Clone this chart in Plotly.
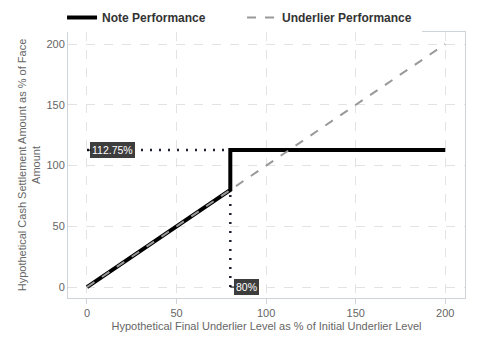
import plotly.graph_objects as go

note_x = [0, 80, 80, 200]
note_y = [0, 80, 112.75, 112.75]
under_x = [0, 200]
under_y = [0, 200]
barrier_x = 80
cap_y = 112.75
x_ticks = [0, 50, 100, 150, 200]
y_ticks = [0, 50, 100, 150, 200]

fig = go.Figure()
dot_line = dict(color="#1c2030", width=2.5, dash="2px,7px")
fig.add_trace(go.Scatter(x=[0, barrier_x], y=[cap_y, cap_y], mode="lines",
                         line=dot_line, showlegend=False, hoverinfo="skip"))
fig.add_trace(go.Scatter(x=[barrier_x, barrier_x], y=[0, cap_y], mode="lines",
                         line=dot_line, showlegend=False, hoverinfo="skip"))
fig.add_trace(go.Scatter(x=note_x, y=note_y, mode="lines", name="Note Performance",
                         line=dict(color="black", width=4)))
fig.add_trace(go.Scatter(x=under_x, y=under_y, mode="lines", name="Underlier Performance",
                         line=dict(color="#999999", width=2, dash="dash")))

ann_style = dict(showarrow=True, arrowhead=0, arrowwidth=1, arrowcolor="black", ay=0,
                 bgcolor="#3d3d3d", bordercolor="#3d3d3d", borderpad=1,
                 font=dict(color="white", size=10.5, family="Liberation Sans"))
fig.add_annotation(x=0, y=cap_y, text=f"{cap_y}%", ax=26, **ann_style)
fig.add_annotation(x=barrier_x, y=0, text=f"{barrier_x}%", ax=16, **ann_style)

axis_common = dict(showline=True, linecolor="#cfd4da", mirror=True, linewidth=1,
                   gridcolor="#e3e3e3", griddash="dash", zeroline=False,
                   tickfont=dict(color="#666666", size=11))
fig.update_xaxes(range=[-10.6, 211], tickvals=x_ticks, ticks="outside", tickcolor="#cfd4da", ticklen=5,
                 title=dict(text="Hypothetical Final Underlier Level as % of Initial Underlier Level",
                            font=dict(color="#666666", size=11), standoff=4), **axis_common)
fig.update_yaxes(range=[-9, 210], tickvals=y_ticks, ticks="",
                 title=dict(text="Hypothetical Cash Settlement Amount as % of Face<br>Amount",
                            font=dict(color="#666666", size=11), standoff=3), **axis_common)
fig.update_layout(width=472, height=352, margin=dict(l=60, r=15, t=24, b=62, autoexpand=False),
                  plot_bgcolor="white", paper_bgcolor="white",
                  font=dict(family="Liberation Sans"),
                  legend=dict(orientation="h", x=-0.015, xanchor="left", y=1.0, yanchor="bottom",
                              entrywidth=135, entrywidthmode="pixels",
                              font=dict(size=12, color="#333333", weight="bold")),
                  showlegend=True)
fig.write_html("out.html")
